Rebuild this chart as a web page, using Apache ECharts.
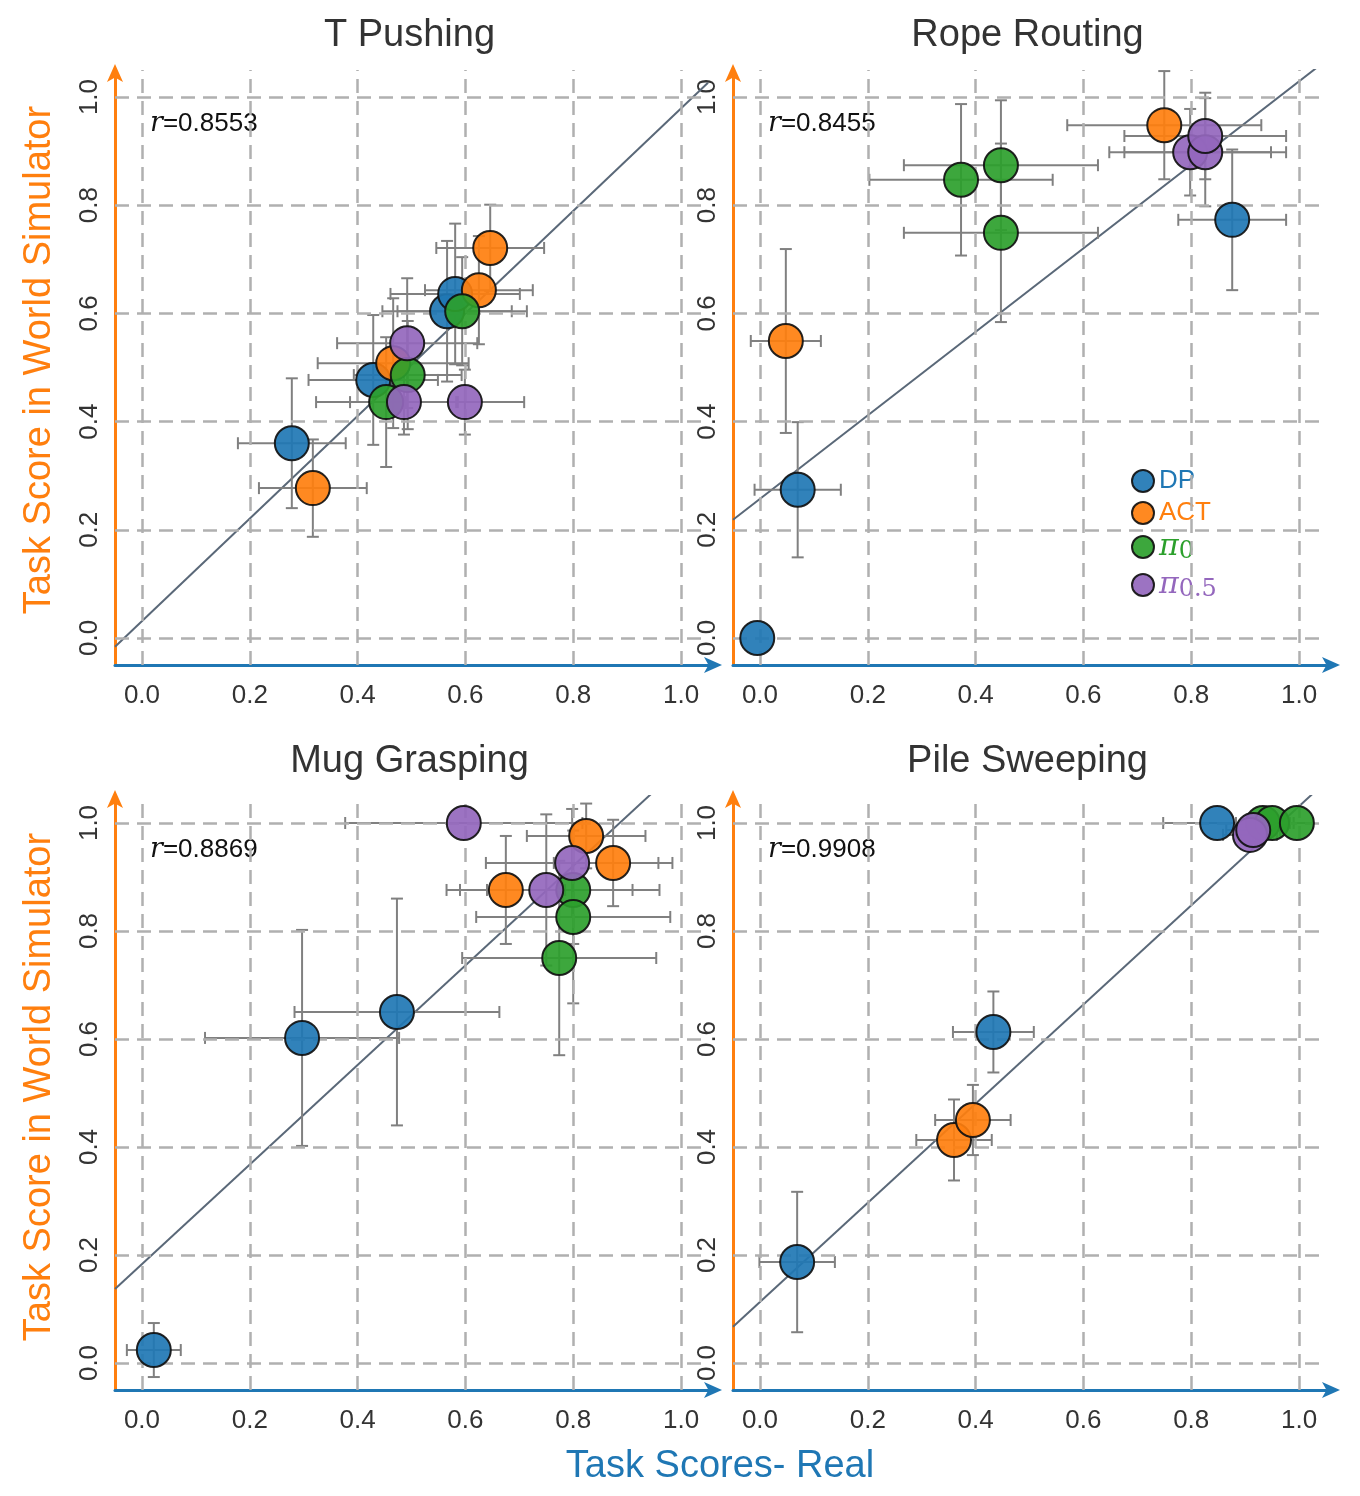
<!DOCTYPE html>
<html>
<head>
<meta charset="utf-8">
<script src="https://cdn.jsdelivr.net/npm/echarts@6/dist/echarts.min.js"></script>
<style>html,body{margin:0;background:#fff}#main{width:1360px;height:1496px}</style>
</head>
<body>
<div id="main"></div>
<script>
const METHODS = ['DP', 'ACT', 'pi0', 'pi05'];
const COLORS = {DP: '#1f77b4', ACT: '#ff7f0e', pi0: '#2ca02c', pi05: '#9467bd'};
const TICKS = [0, 0.2, 0.4, 0.6, 0.8, 1.0];
const TITLES = ['T Pushing', 'Rope Routing', 'Mug Grasping', 'Pile Sweeping'];
const R_VALUES = ['0.8553', '0.8455', '0.8869', '0.9908'];
// fit lines: [slope, intercept]
const FITS = [[0.948, 0.031], [0.772, 0.257], [0.922, 0.183], [0.918, 0.113]];

// rows: [method, real, sim, xErr, yErr]
const tPushing = [
    ['DP', 0.278, 0.360, 0.10, 0.12], ['DP', 0.429, 0.477, 0.12, 0.12],
    ['DP', 0.566, 0.604, 0.12, 0.13], ['DP', 0.581, 0.636, 0.12, 0.13],
    ['ACT', 0.317, 0.277, 0.10, 0.09], ['ACT', 0.646, 0.721, 0.10, 0.08],
    ['ACT', 0.625, 0.643, 0.10, 0.10], ['ACT', 0.466, 0.508, 0.14, 0.12],
    ['pi0', 0.453, 0.436, 0.13, 0.12], ['pi0', 0.493, 0.486, 0.10, 0.10],
    ['pi0', 0.594, 0.604, 0.12, 0.10],
    ['pi05', 0.492, 0.545, 0.13, 0.12], ['pi05', 0.486, 0.436, 0.10, 0.06],
    ['pi05', 0.599, 0.436, 0.11, 0.06],
];
const ropeRouting = [
    ['DP', -0.005, 0.0, 0, 0], ['DP', 0.07, 0.274, 0.08, 0.125],
    ['DP', 0.876, 0.773, 0.10, 0.13],
    ['ACT', 0.048, 0.549, 0.065, 0.17], ['ACT', 0.75, 0.948, 0.18, 0.10],
    ['pi0', 0.373, 0.847, 0.17, 0.14], ['pi0', 0.447, 0.874, 0.18, 0.12],
    ['pi0', 0.447, 0.749, 0.18, 0.165],
    ['pi05', 0.798, 0.898, 0.15, 0.08], ['pi05', 0.826, 0.898, 0.15, 0.10],
    ['pi05', 0.826, 0.928, 0.15, 0.08],
];
const mugGrasping = [
    ['DP', 0.022, 0.024, 0.05, 0.05], ['DP', 0.297, 0.602, 0.18, 0.20],
    ['DP', 0.473, 0.650, 0.19, 0.21],
    ['ACT', 0.824, 0.976, 0.11, 0.06], ['ACT', 0.874, 0.926, 0.11, 0.08],
    ['ACT', 0.675, 0.876, 0.11, 0.10],
    ['pi0', 0.80, 0.876, 0.16, 0.10], ['pi0', 0.80, 0.826, 0.18, 0.16],
    ['pi0', 0.774, 0.750, 0.18, 0.18],
    ['pi05', 0.597, 1.0, 0.22, 0], ['pi05', 0.798, 0.926, 0.16, 0.10],
    ['pi05', 0.75, 0.876, 0.16, 0.14],
];
const pileSweeping = [
    ['DP', 0.069, 0.187, 0.07, 0.13], ['DP', 0.433, 0.613, 0.075, 0.075],
    ['DP', 0.848, 1.0, 0.10, 0],
    ['ACT', 0.36, 0.413, 0.07, 0.075], ['ACT', 0.395, 0.45, 0.07, 0.065],
    ['pi0', 0.933, 1.0, 0.05, 0], ['pi0', 0.95, 1.0, 0.04, 0],
    ['pi0', 0.996, 1.0, 0.03, 0],
    ['pi05', 0.909, 0.978, 0.05, 0.02], ['pi05', 0.915, 0.987, 0.05, 0.02],
];
const PANELS = [tPushing, ropeRouting, mugGrasping, pileSweeping];

const GRIDS = [
    {left: 115, top: 70, width: 593, height: 595},
    {left: 733, top: 70, width: 593, height: 595},
    {left: 115, top: 796, width: 593, height: 594},
    {left: 733, top: 796, width: 593, height: 594},
];
const FONT = 'Liberation Sans, Arial, sans-serif';

function errorBarRender(params, api) {
    const x = api.value(0), y = api.value(1), xe = api.value(2), ye = api.value(3);
    const c = api.coord([x, y]);
    const l = api.coord([x - xe, y]), r = api.coord([x + xe, y]);
    const t = api.coord([x, y + ye]), b = api.coord([x, y - ye]);
    const cap = 6;
    const style = {stroke: '#808080', lineWidth: 2};
    const kids = [];
    if (xe > 0) {
        kids.push({type: 'line', shape: {x1: l[0], y1: c[1], x2: r[0], y2: c[1]}, style});
        kids.push({type: 'line', shape: {x1: l[0], y1: c[1] - cap, x2: l[0], y2: c[1] + cap}, style});
        kids.push({type: 'line', shape: {x1: r[0], y1: c[1] - cap, x2: r[0], y2: c[1] + cap}, style});
    }
    if (ye > 0) {
        kids.push({type: 'line', shape: {x1: c[0], y1: t[1], x2: c[0], y2: b[1]}, style});
        kids.push({type: 'line', shape: {x1: c[0] - cap, y1: t[1], x2: c[0] + cap, y2: t[1]}, style});
        kids.push({type: 'line', shape: {x1: c[0] - cap, y1: b[1], x2: c[0] + cap, y2: b[1]}, style});
    }
    return {type: 'group', children: kids};
}

let xAxes = [], yAxes = [], series = [], graphics = [];

GRIDS.forEach((g, i) => {
    xAxes.push({
        gridIndex: i, type: 'value', min: -0.05, max: 1.05,
        axisLine: {onZero: false, lineStyle: {color: '#1f77b4', width: 3}, symbol: ['none', 'arrow'], symbolSize: [12, 18], symbolOffset: [0, 14]},
        axisTick: {show: false}, splitLine: {show: false},
        axisLabel: {customValues: TICKS, formatter: v => v.toFixed(1), color: '#333', fontSize: 26, fontFamily: FONT, margin: 18},
    });
    yAxes.push({
        gridIndex: i, type: 'value', min: -0.05, max: 1.05,
        axisLine: {onZero: false, lineStyle: {color: '#ff7f0e', width: 3}, symbol: ['none', 'arrow'], symbolSize: [12, 18], symbolOffset: [0, 6]},
        axisTick: {show: false}, splitLine: {show: false},
        axisLabel: {customValues: TICKS, formatter: v => v.toFixed(1), color: '#333', fontSize: 26, fontFamily: FONT, rotate: 90, margin: 12},
    });

    // dashed grid lines
    series.push({
        type: 'line', xAxisIndex: i, yAxisIndex: i, data: [], silent: true,
        markLine: {
            silent: true, symbol: 'none', label: {show: false}, animation: false,
            lineStyle: {color: '#b0b0b0', type: [14, 8], width: 2.5},
            data: TICKS.map(v => ({xAxis: v})).concat(TICKS.map(v => ({yAxis: v}))),
        },
    });

    // fit line
    const [k, b] = FITS[i];
    const ends = [-0.05, 1.05].map(x => [x, k * x + b]);
    series.push({
        type: 'line', xAxisIndex: i, yAxisIndex: i, data: ends, symbol: 'none', silent: true,
        lineStyle: {color: '#5a6878', width: 2}, z: 3,
    });

    const rows = PANELS[i];
    series.push({
        type: 'custom', xAxisIndex: i, yAxisIndex: i, renderItem: errorBarRender,
        data: rows.map(r => [r[1], r[2], r[3], r[4]]), z: 4, silent: true,
    });
    METHODS.forEach(m => {
        series.push({
            name: m, type: 'scatter', xAxisIndex: i, yAxisIndex: i, symbolSize: 34, z: 5,
            itemStyle: {color: COLORS[m], borderColor: '#111', borderWidth: 2, opacity: 0.92},
            data: rows.filter(r => r[0] === m).map(r => [r[1], r[2]]),
        });
    });

    graphics.push({
        type: 'text', x: g.left + g.width / 2 - 2, y: g.top - 34,
        style: {text: TITLES[i], font: '38px ' + FONT, fill: '#333', align: 'center', verticalAlign: 'middle'},
    });
    graphics.push({
        type: 'text', left: g.left + 35, top: g.top + 40,
        style: {
            text: '{r|r}{t|=' + R_VALUES[i] + '}',
            rich: {r: {font: 'italic 27px DejaVu Serif, serif', fill: '#111'}, t: {font: '26px ' + FONT, fill: '#111'}},
        },
    });
});

graphics.push({
    type: 'text', x: 40, y: 360, rotation: Math.PI / 2,
    style: {text: 'Task Score in World Simulator', font: '38px ' + FONT, fill: '#ff7f0e', align: 'center', verticalAlign: 'middle'},
});
graphics.push({
    type: 'text', x: 40, y: 1087, rotation: Math.PI / 2,
    style: {text: 'Task Score in World Simulator', font: '38px ' + FONT, fill: '#ff7f0e', align: 'center', verticalAlign: 'middle'},
});
graphics.push({
    type: 'text', x: 720, y: 1467,
    style: {text: 'Task Scores- Real', font: '38px ' + FONT, fill: '#1f77b4', align: 'center', verticalAlign: 'middle'},
});

const LEGEND_LABELS = {
    DP: '{a|DP}', ACT: '{b|ACT}', pi0: '{c|π}{cs|0}', pi05: '{d|π}{ds|0.5}',
};

const chart = echarts.init(document.getElementById('main'));
chart.setOption({
    animation: false,
    grid: GRIDS,
    xAxis: xAxes,
    yAxis: yAxes,
    series: series,
    graphic: graphics,
    legend: {
        orient: 'vertical', left: 1126, top: 463, itemGap: 6, itemWidth: 22, itemHeight: 22,
        icon: 'circle', data: METHODS, selectedMode: false,
        itemStyle: {borderColor: '#111', borderWidth: 2},
        formatter: n => LEGEND_LABELS[n],
        textStyle: {
            rich: {
                a: {color: COLORS.DP, fontSize: 26, fontFamily: FONT},
                b: {color: COLORS.ACT, fontSize: 26, fontFamily: FONT},
                c: {color: COLORS.pi0, fontSize: 30, fontFamily: 'DejaVu Serif, serif', fontStyle: 'italic'},
                cs: {color: COLORS.pi0, fontSize: 24, fontFamily: 'DejaVu Serif, serif', verticalAlign: 'bottom', padding: [10, 0, 0, 0]},
                d: {color: COLORS.pi05, fontSize: 30, fontFamily: 'DejaVu Serif, serif', fontStyle: 'italic'},
                ds: {color: COLORS.pi05, fontSize: 24, fontFamily: 'DejaVu Serif, serif', verticalAlign: 'bottom', padding: [10, 0, 0, 0]},
            },
        },
    },
});
</script>
</body>
</html>
